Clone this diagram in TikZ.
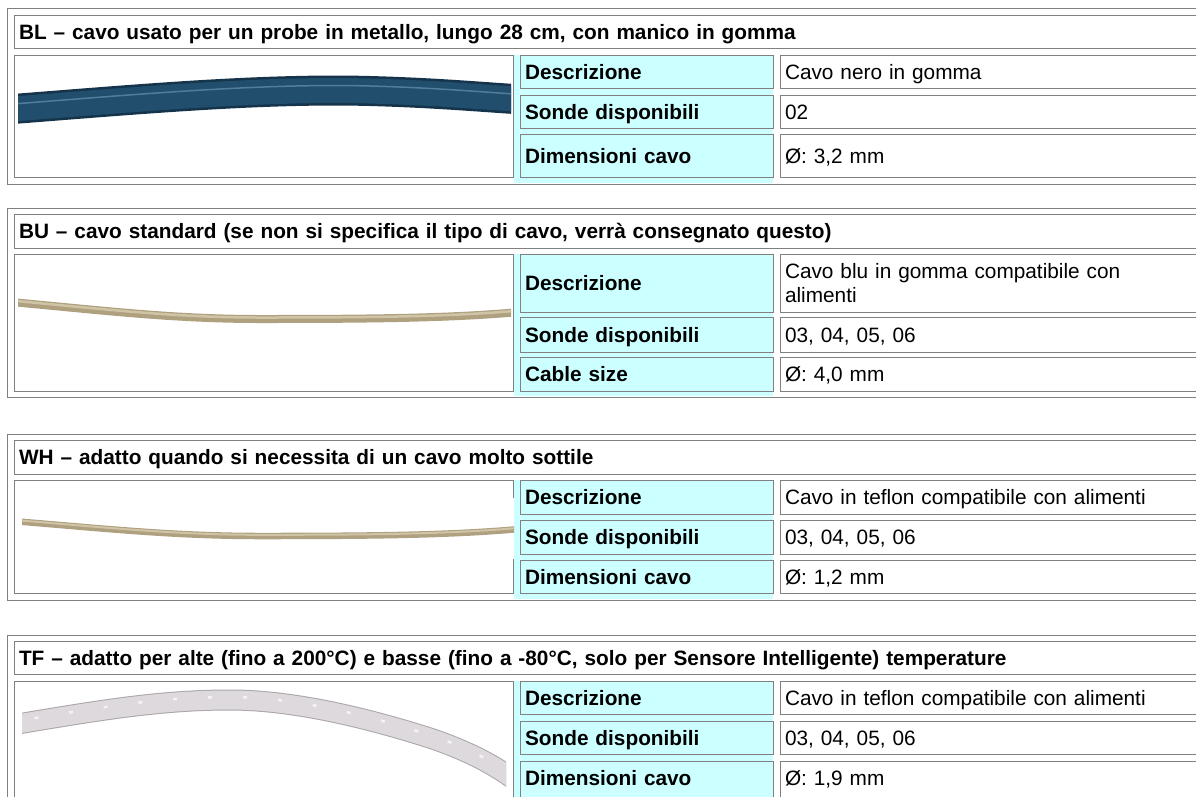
\documentclass[tikz,border=0pt]{standalone}
\usepackage{fontspec}
\setmainfont{Liberation Sans}
\usepackage{tikz}
\usetikzlibrary{positioning}
\definecolor{cellborder}{HTML}{808080}
\definecolor{labcyan}{HTML}{CCFFFF}
\definecolor{cableblue}{HTML}{214E6C}
\definecolor{cablebluedark}{HTML}{15334A}
\definecolor{cablebluelight}{HTML}{4F7D9B}
\definecolor{cablebeige}{HTML}{AFA07F}
\definecolor{cablebeigelight}{HTML}{CFC4A6}
\definecolor{cablewhite}{HTML}{DDD9DD}
\definecolor{cablewhiteedge}{HTML}{A9A5AA}

\begin{document}
\begin{tikzpicture}[x=1pt, y=-1pt,
	every node/.style={node distance=7pt, rectangle, draw=cellborder, line width=1pt, outer sep=0pt, inner xsep=5pt, inner ysep=0pt, anchor=north west, align=left, text height=17pt, text depth=2pt, font=\fontsize{20.8}{24}\selectfont},
	titlecell/.style={text width=1196pt, font=\fontsize{20.8}{24}\selectfont\bfseries},
	imgcell/.style={minimum width=499pt},
	labcell/.style={fill=labcyan, text width=243pt, font=\fontsize{20.8}{24}\selectfont\bfseries},
	valcell/.style={text width=430pt},
	boxline/.style={draw=cellborder, line width=1pt}]
	\useasboundingbox (0,0) rectangle (1196,796);
	\clip (0,0) rectangle (1196,796);

	% BL
	\draw[boxline] (7,8) rectangle (1220,184);
	\fill[labcyan] (514,55) rectangle (773,183);
	\node[titlecell, minimum height=33pt](titleBL) at (14,15) {BL – cavo usato per un probe in metallo, lungo 28 cm, con manico in gomma};
	\node[imgcell, minimum height=122pt](imgBL) at (14,55) {};
	\node[labcell, minimum height=33pt](descBL) at (520,55) {Descrizione};
	\node[labcell, minimum height=33pt, below=7pt of descBL](sondeBL) {Sonde disponibili};
	\node[labcell, minimum height=43pt, below=6pt of sondeBL](dimBL) {Dimensioni cavo};
	\node[valcell, minimum height=33pt, right=of descBL](descvalBL) {Cavo nero in gomma};
	\node[valcell, minimum height=33pt, right=of sondeBL](sondevalBL) {02};
	\node[valcell, minimum height=43pt, right=of dimBL](dimvalBL) {Ø: 3,2 mm};
	\begin{scope}
		\clip (18,60) rectangle (511,172);
		\draw[draw=cablebluedark, double=cableblue, double distance=25pt, line width=2.5pt] (0,110) .. controls (130,100) and (260,88) .. (370,91) .. controls (440,93) and (480,97) .. (530,100);
		\draw[cablebluelight, line width=1.5pt, yshift=5pt] (0,110) .. controls (130,100) and (260,88) .. (370,91) .. controls (440,93) and (480,97) .. (530,100);
	\end{scope}

	% BU
	\draw[boxline] (7,208) rectangle (1220,397);
	\fill[labcyan] (514,254) rectangle (773,396);
	\node[titlecell, minimum height=34pt](titleBU) at (14,214) {BU – cavo standard (se non si specifica il tipo di cavo, verrà consegnato questo)};
	\node[imgcell, minimum height=137pt](imgBU) at (14,254) {};
	\node[labcell, minimum height=58pt](descBU) at (520,254) {Descrizione};
	\node[labcell, minimum height=35pt, below=5pt of descBU](sondeBU) {Sonde disponibili};
	\node[labcell, minimum height=34pt, below=5pt of sondeBU](dimBU) {Cable size};
	\node[valcell, minimum height=58pt, text depth=26pt, right=of descBU](descvalBU) {Cavo blu in gomma compatibile con\\alimenti};
	\node[valcell, minimum height=35pt, right=of sondeBU](sondevalBU) {03, 04, 05, 06};
	\node[valcell, minimum height=34pt, right=of dimBU](dimvalBU) {Ø: 4,0 mm};
	\begin{scope}
		\clip (18,260) rectangle (511,385);
		\draw[cablebeige, line width=8pt] (0,301) .. controls (100,310) and (170,319) .. (260,319) .. controls (380,319) and (460,318) .. (530,311);
		\draw[cablebeigelight, line width=2.5pt, yshift=1.5pt] (0,301) .. controls (100,310) and (170,319) .. (260,319) .. controls (380,319) and (460,318) .. (530,311);
	\end{scope}

	% WH
	\draw[boxline] (7,434) rectangle (1220,600);
	\fill[labcyan] (514,480) rectangle (773,599);
	\node[titlecell, minimum height=34pt](titleWH) at (14,440) {WH – adatto quando si necessita di un cavo molto sottile};
	\node[imgcell, minimum height=113pt](imgWH) at (14,480) {};
	\node[labcell, minimum height=34pt](descWH) at (520,480) {Descrizione};
	\node[labcell, minimum height=34pt, below=6pt of descWH](sondeWH) {Sonde disponibili};
	\node[labcell, minimum height=33pt, below=6pt of sondeWH](dimWH) {Dimensioni cavo};
	\node[valcell, minimum height=34pt, right=of descWH](descvalWH) {Cavo in teflon compatibile con alimenti};
	\node[valcell, minimum height=34pt, right=of sondeWH](sondevalWH) {03, 04, 05, 06};
	\node[valcell, minimum height=33pt, right=of dimWH](dimvalWH) {Ø: 1,2 mm};
	\fill[white] (511,498) rectangle (514,559);
	\begin{scope}
		\clip (22,485) rectangle (514,590);
		\draw[cablebeige, line width=6.5pt] (0,520) .. controls (100,528) and (170,536) .. (260,536) .. controls (380,536) and (460,535) .. (530,528);
		\draw[cablebeigelight, line width=2pt, yshift=1.2pt] (0,520) .. controls (100,528) and (170,536) .. (260,536) .. controls (380,536) and (460,535) .. (530,528);
	\end{scope}

	% TF
	\draw[boxline] (7,635) rectangle (1220,840);
	\fill[labcyan] (514,681) rectangle (773,840);
	\node[titlecell, minimum height=33pt](titleTF) at (14,641) {TF – adatto per alte (fino a 200°C) e basse (fino a -80°C, solo per Sensore Intelligente) temperature};
	\node[imgcell, minimum height=150pt](imgTF) at (14,681) {};
	\node[labcell, minimum height=33pt](descTF) at (520,681) {Descrizione};
	\node[labcell, minimum height=33pt, below=7pt of descTF](sondeTF) {Sonde disponibili};
	\node[labcell, minimum height=40pt, text depth=9pt, below=7pt of sondeTF](dimTF) {Dimensioni cavo};
	\node[valcell, minimum height=33pt, right=of descTF](descvalTF) {Cavo in teflon compatibile con alimenti};
	\node[valcell, minimum height=33pt, right=of sondeTF](sondevalTF) {03, 04, 05, 06};
	\node[valcell, minimum height=40pt, text depth=9pt, right=of dimTF](dimvalTF) {Ø: 1,9 mm};
	\begin{scope}
		\clip (22,685) rectangle (506,796);
		\draw[draw=cablewhiteedge, double=cablewhite, double distance=19pt, line width=1pt] (0,727) .. controls (100,710) and (160,700) .. (230,700) .. controls (300,700) and (380,722) .. (433,739) .. controls (470,752) and (495,765) .. (520,784);
		\draw[white, opacity=0.7, line width=2.5pt, dash pattern=on 4pt off 31pt, yshift=3pt] (0,727) .. controls (100,710) and (160,700) .. (230,700) .. controls (300,700) and (380,722) .. (433,739) .. controls (470,752) and (495,765) .. (520,784);
	\end{scope}
\end{tikzpicture}
\end{document}
